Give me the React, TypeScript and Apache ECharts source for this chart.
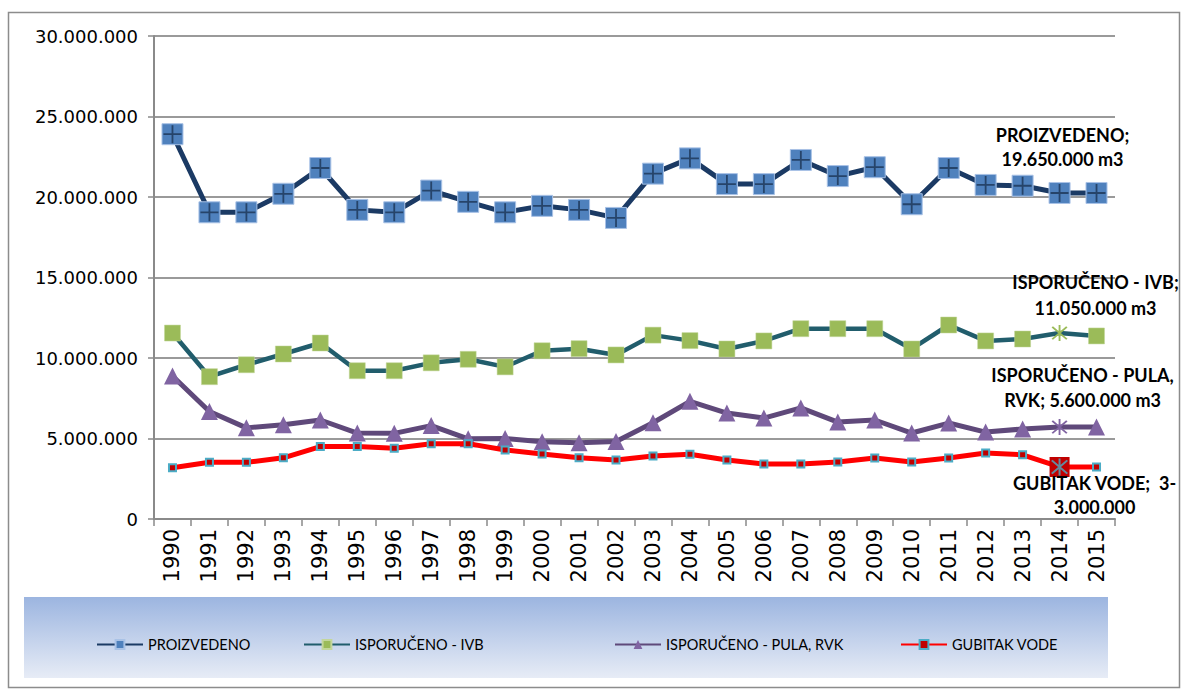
import React, { useEffect, useRef } from "react";
import * as echarts from "echarts";

const years = ["1990","1991","1992","1993","1994","1995","1996","1997","1998","1999","2000","2001","2002","2003","2004","2005","2006","2007","2008","2009","2010","2011","2012","2013","2014","2015"];

const proizvedeno = [23900000,19050000,19050000,20200000,21800000,19200000,19050000,20400000,19700000,19050000,19450000,19200000,18700000,21450000,22400000,20800000,20800000,22300000,21300000,21850000,19550000,21800000,20750000,20700000,20250000,20250000];
const isporucenoIvb = [11550000,8840000,9580000,10250000,10930000,9210000,9210000,9700000,9920000,9450000,10450000,10580000,10190000,11420000,11080000,10560000,11060000,11820000,11820000,11820000,10560000,12050000,11060000,11180000,11550000,11370000];
const isporucenoPula = [8880000,6680000,5660000,5860000,6150000,5340000,5320000,5800000,4980000,5000000,4800000,4740000,4820000,5980000,7310000,6580000,6270000,6900000,6020000,6150000,5340000,5960000,5400000,5590000,5710000,5710000];
const gubitakVode = [3180000,3520000,3520000,3800000,4500000,4500000,4400000,4680000,4680000,4290000,4040000,3800000,3660000,3910000,4020000,3660000,3420000,3420000,3540000,3790000,3540000,3790000,4100000,3990000,3230000,3230000];

const yTicks = { min: 0, max: 30000000, interval: 5000000 };

const NAMES = ["PROIZVEDENO", "ISPORUČENO - IVB", "ISPORUČENO - PULA, RVK", "GUBITAK VODE"];
const LABELS = [
  "PROIZVEDENO;\n19.650.000 m3",
  "ISPORUČENO - IVB;\n11.050.000 m3",
  "ISPORUČENO - PULA,\nRVK; 5.600.000 m3",
  "GUBITAK VODE;  3-\n3.000.000",
];
const HIGHLIGHT = 24; // 2014

const CROSS = "path://M0,9 L20,9 L20,11 L0,11 Z M9,0 L11,0 L11,20 L9,20 Z";
const STAR = "path://M9,0 L11,0 L11,20 L9,20 Z M1.5,3 L3,1.5 L18.5,17 L17,18.5 Z M17,1.5 L18.5,3 L3,18.5 L1.5,17 Z";

const fmt = (v: number) => String(v).replace(/\B(?=(\d{3})+(?!\d))/g, ".");

const labelBase = {
  show: true,
  fontFamily: "Lato",
  fontWeight: "bold",
  fontSize: 18,
  color: "#000",
  align: "center",
};

export default function App() {
  const ref = useRef<HTMLDivElement>(null);
  useEffect(() => {
    document.body.style.margin = "0";
    if (!ref.current) return;
    const chart = echarts.init(ref.current, null, { renderer: "svg" });

    const proData = proizvedeno.map((v, i) =>
      i === HIGHLIGHT
        ? { value: v, label: { ...labelBase, formatter: LABELS[0], position: "top", distance: 11, offset: [3, 0], lineHeight: 24 } }
        : v
    );
    const ivbData = isporucenoIvb.map((v, i) =>
      i === HIGHLIGHT
        ? { value: v, symbol: STAR, symbolSize: 16, itemStyle: { color: "#9bbb59", borderWidth: 0 },
            label: { ...labelBase, formatter: LABELS[1], position: "top", distance: 4, offset: [36, 0], lineHeight: 26 } }
        : v
    );
    const pulaData = isporucenoPula.map((v, i) =>
      i === HIGHLIGHT
        ? { value: v, symbol: STAR, symbolSize: 16, itemStyle: { color: "#8064a2" },
            label: { ...labelBase, formatter: LABELS[2], position: "top", distance: 7, offset: [23, 0], lineHeight: 25 } }
        : v
    );
    const gubData = gubitakVode.map((v, i) =>
      i === HIGHLIGHT
        ? { value: v, symbol: "rect", symbolSize: 20, itemStyle: { color: "#c00000", borderWidth: 0 },
            label: { ...labelBase, formatter: LABELS[3], position: "bottom", distance: 0, offset: [35, -6], lineHeight: 24 } }
        : v
    );
    const crossData = proizvedeno.map((v) => v);
    const gubStarData = gubitakVode.map((v, i) => (i === HIGHLIGHT ? v : "-"));

    const legendIconLeft = [91, 298, 609, 895];

    chart.setOption({
      animation: false,
      backgroundColor: "#fff",
      grid: { left: 154, right: 70, top: 36, bottom: 171, containLabel: false },
      graphic: [
        {
          type: "rect",
          shape: { x: 8.5, y: 12.5, width: 1171, height: 675 },
          style: { fill: "none", stroke: "#8c8c8c", lineWidth: 1.5 },
          z: 0,
        },
        {
          type: "rect",
          shape: { x: 24, y: 597, width: 1084, height: 81 },
          style: {
            fill: new echarts.graphic.LinearGradient(0, 0, 0, 1, [
              { offset: 0, color: "#9cb5e0" },
              { offset: 1, color: "#e7ecf6" },
            ]),
          },
          z: 0,
        },
      ],
      legend: NAMES.map((n, i) => ({
        data: [n],
        left: legendIconLeft[i],
        top: 632,
        itemWidth: 46,
        itemHeight: 11,
        textStyle: { fontFamily: "Lato", fontSize: 14.5, color: "#000" },
        selectedMode: false,
      })),
      xAxis: {
        type: "category",
        data: years,
        boundaryGap: true,
        axisLine: { lineStyle: { color: "#8a8a8a", width: 2 } },
        axisTick: { show: true, length: 7, interval: 0, lineStyle: { color: "#8a8a8a", width: 1.5 } },
        axisLabel: { rotate: 90, interval: 0, margin: 10, fontFamily: "DejaVu Sans", fontSize: 21, color: "#000" },
        splitLine: { show: false },
      },
      yAxis: {
        type: "value",
        min: yTicks.min,
        max: yTicks.max,
        interval: yTicks.interval,
        axisLine: { show: true, lineStyle: { color: "#8a8a8a", width: 2 } },
        axisTick: { show: true, length: 6, lineStyle: { color: "#8a8a8a", width: 1.5 } },
        axisLabel: { margin: 16, fontFamily: "DejaVu Sans", fontSize: 18, color: "#000", formatter: (v: number) => fmt(v) },
        splitLine: { show: true, lineStyle: { color: "#9a9a9a", width: 2 } },
      },
      series: [
        {
          name: NAMES[0],
          type: "line",
          data: proData,
          symbol: "rect",
          symbolSize: 21,
          lineStyle: { color: "#1b3a64", width: 5 },
          itemStyle: { color: "#4f81bd", borderColor: "#a9c2e6", borderWidth: 1 },
          z: 2,
        },
        {
          name: "cross",
          type: "scatter",
          data: crossData,
          symbol: CROSS,
          symbolSize: 18,
          itemStyle: { color: "#1b3455" },
          silent: true,
          z: 3,
        },
        {
          name: NAMES[1],
          type: "line",
          data: ivbData,
          symbol: "rect",
          symbolSize: 16,
          lineStyle: { color: "#215d6c", width: 4.5 },
          itemStyle: { color: "#9bbb59", borderColor: "#c3d69b", borderWidth: 0.5 },
          z: 4,
        },
        {
          name: NAMES[2],
          type: "line",
          data: pulaData,
          symbol: "triangle",
          symbolSize: 17,
          lineStyle: { color: "#5f497a", width: 5 },
          itemStyle: { color: "#8064a2" },
          z: 5,
        },
        {
          name: NAMES[3],
          type: "line",
          data: gubData,
          symbol: "rect",
          symbolSize: 7,
          lineStyle: { color: "#ff0000", width: 5 },
          itemStyle: { color: "#c00000", borderColor: "#4bacc6", borderWidth: 2 },
          z: 6,
        },
        {
          name: "gubstar",
          type: "scatter",
          data: gubStarData,
          symbol: STAR,
          symbolSize: 17,
          itemStyle: { color: "#4bacc6" },
          silent: true,
          z: 7,
        },
      ],
    });
    return () => chart.dispose();
  }, []);
  return <div ref={ref} style={{ width: 1185, height: 690 }} />;
}
